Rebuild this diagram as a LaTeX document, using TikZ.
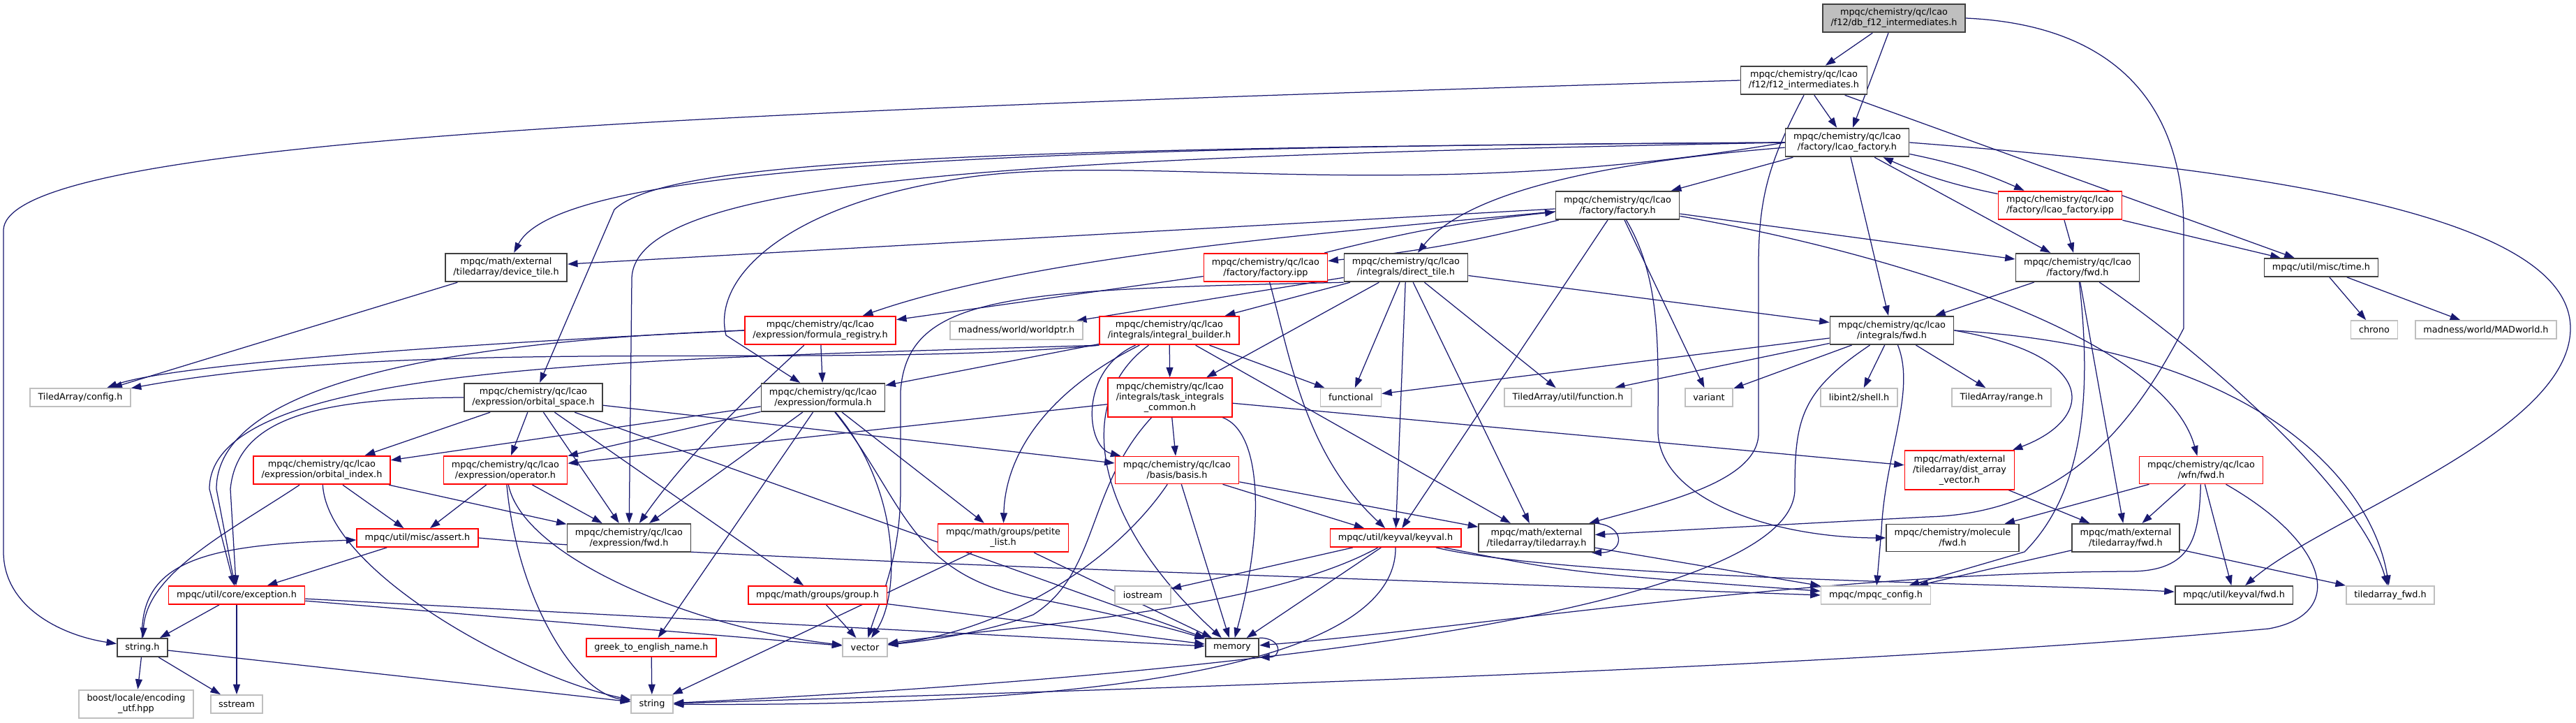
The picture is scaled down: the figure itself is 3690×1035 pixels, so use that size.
\documentclass[tikz,border=0pt]{standalone}
\usepackage{fontspec}
\setmainfont{DejaVu Sans}
\usetikzlibrary{arrows.meta,positioning}
\pgfdeclarelayer{edges}
\pgfsetlayers{edges,main}

\definecolor{edgeblue}{HTML}{191970}
\definecolor{boxred}{HTML}{FF0000}
\definecolor{boxgray}{HTML}{BFBFBF}
\definecolor{boxdark}{HTML}{404040}

\tikzset{
  filebox/.style={font=\fontsize{7.3}{8.5}\selectfont, align=center, inner xsep=2.3mm,
    inner ysep=1.3mm, minimum height=5.2mm, line width=0.35mm, fill=white},
  hdr/.style={filebox, draw=boxdark},
  hdrred/.style={filebox, draw=boxred},
  sysinc/.style={filebox, draw=boxgray},
  thisfile/.style={filebox, draw=boxdark, fill=boxgray},
  edge/.style={draw=edgeblue, line width=0.25mm, -{Triangle[length=2.9mm,width=2mm]}}
}

\begin{document}
\begin{tikzpicture}[x=0.2mm,y=-0.2mm]
\useasboundingbox (0,0) rectangle (3690,1035);

% include files, one row per rank
\node[thisfile] (root) at (2713,26) {mpqc/chemistry/qc/lcao\\/f12/db\_f12\_intermediates.h};
\node[hdr] (f12) at (2584,115) {mpqc/chemistry/qc/lcao\\/f12/f12\_intermediates.h};
\node[hdr] (lcaofac) at (2646,204) {mpqc/chemistry/qc/lcao\\/factory/lcao\_factory.h};
\node[hdr] (factory) at (2317,294) {mpqc/chemistry/qc/lcao\\/factory/factory.h};
\node[hdrred] (lcaoipp) at (2951,294) {mpqc/chemistry/qc/lcao\\/factory/lcao\_factory.ipp};

\node[hdr] (devtile) at (725,383) {mpqc/math/external\\/tiledarray/device\_tile.h};
\node[hdrred] (factipp) at (1813,383) {mpqc/chemistry/qc/lcao\\/factory/factory.ipp};
\node[hdr] (directtile) at (2014,383) {mpqc/chemistry/qc/lcao\\/integrals/direct\_tile.h};
\node[hdr] (facfwd) at (2976,383) {mpqc/chemistry/qc/lcao\\/factory/fwd.h};
\node[hdr] (time) at (3325,383) {mpqc/util/misc/time.h};

\node[hdrred] (formreg) at (1175,473) {mpqc/chemistry/qc/lcao\\/expression/formula\_registry.h};
\node[sysinc] (worldptr) at (1456,473) {madness/world/worldptr.h};
\node[hdrred] (intbuilder) at (1675,473) {mpqc/chemistry/qc/lcao\\/integrals/integral\_builder.h};
\node[hdr] (intfwd) at (2710,473) {mpqc/chemistry/qc/lcao\\/integrals/fwd.h};
\node[sysinc] (chrono) at (3401,472) {chrono};
\node[sysinc] (madworld) at (3561,472) {madness/world/MADworld.h};

\node[sysinc] (taconfig) at (115,569) {TiledArray/config.h};
\node[hdr] (orbspace) at (764,569) {mpqc/chemistry/qc/lcao\\/expression/orbital\_space.h};
\node[hdr] (formula) at (1179,569) {mpqc/chemistry/qc/lcao\\/expression/formula.h};
\node[hdrred] (taskint) at (1676,569) {mpqc/chemistry/qc/lcao\\/integrals/task\_integrals\\\_common.h};
\node[sysinc] (functional) at (1935,569) {functional};
\node[sysinc] (tafunction) at (2246,569) {TiledArray/util/function.h};
\node[sysinc] (variant) at (2448,569) {variant};
\node[sysinc] (libint) at (2663,569) {libint2/shell.h};
\node[sysinc] (tarange) at (2867,569) {TiledArray/range.h};

\node[hdrred] (orbindex) at (461,673) {mpqc/chemistry/qc/lcao\\/expression/orbital\_index.h};
\node[hdrred] (operator) at (724,673) {mpqc/chemistry/qc/lcao\\/expression/operator.h};
\node[hdrred] (basis) at (1686,673) {mpqc/chemistry/qc/lcao\\/basis/basis.h};
\node[hdrred] (distvec) at (2807,673) {mpqc/math/external\\/tiledarray/dist\_array\\\_vector.h};
\node[hdrred] (wfnfwd) at (3153,673) {mpqc/chemistry/qc/lcao\\/wfn/fwd.h};

\node[hdrred] (assert) at (598,770) {mpqc/util/misc/assert.h};
\node[hdr] (exprfwd) at (901,770) {mpqc/chemistry/qc/lcao\\/expression/fwd.h};
\node[hdrred] (petite) at (1437,770) {mpqc/math/groups/petite\\\_list.h};
\node[hdrred] (keyval) at (1999,770) {mpqc/util/keyval/keyval.h};
\node[hdr] (tiledarray) at (2201,770) {mpqc/math/external\\/tiledarray/tiledarray.h};
\node[hdr] (molfwd) at (2797,770) {mpqc/chemistry/molecule\\/fwd.h};
\node[hdr] (tafwd) at (3045,770) {mpqc/math/external\\/tiledarray/fwd.h};

\node[hdrred] (exception) at (339,852) {mpqc/util/core/exception.h};
\node[hdrred] (group) at (1171,852) {mpqc/math/groups/group.h};
\node[sysinc] (iostream) at (1637,852) {iostream};
\node[sysinc] (config) at (2687,852) {mpqc/mpqc\_config.h};
\node[hdr] (keyvalfwd) at (3200,852) {mpqc/util/keyval/fwd.h};
\node[sysinc] (tafwdh) at (3424,852) {tiledarray\_fwd.h};

\node[hdr] (stringh) at (204,927) {string.h};
\node[hdrred] (greek) at (933,927) {greek\_to\_english\_name.h};
\node[sysinc] (vector) at (1239,927) {vector};
\node[hdr] (memory) at (1765,927) {memory};

\node[sysinc] (boost) at (195,1008) {boost/locale/encoding\\\_utf.hpp};
\node[sysinc] (sstream) at (339,1008) {sstream};
\node[sysinc] (string) at (934,1008) {string};

\begin{pgfonlayer}{edges}
% plain includes
\foreach \s/\t in {root/f12, root/lcaofac, f12/lcaofac, f12/time,
  lcaofac/factory, lcaofac/intfwd, lcaofac/facfwd, lcaoipp/facfwd, lcaoipp/time,
  factory/devtile, factory/facfwd, factory/keyval, factory/variant, factipp/formreg,
  directtile/worldptr, directtile/intbuilder, directtile/taskint, directtile/functional,
  directtile/tafunction, directtile/intfwd, directtile/tiledarray, directtile/keyval,
  intbuilder/formula, intbuilder/taskint, intbuilder/functional, intbuilder/tiledarray,
  formreg/formula, devtile/taconfig,
  intfwd/functional, intfwd/tafunction, intfwd/variant, intfwd/libint, intfwd/tarange,
  facfwd/intfwd, facfwd/tafwd, time/chrono, time/madworld,
  orbspace/orbindex, orbspace/operator, orbspace/exprfwd, orbspace/basis, orbspace/group, orbspace/memory,
  formula/orbindex, formula/operator, formula/exprfwd, formula/petite, formula/greek,
  taskint/basis, taskint/distvec, taskint/operator,
  orbindex/assert, orbindex/exprfwd, operator/assert, operator/exprfwd,
  basis/keyval, basis/tiledarray, basis/memory,
  distvec/tafwd, wfnfwd/molfwd, wfnfwd/tafwd, wfnfwd/keyvalfwd,
  tafwd/config, tafwd/tafwdh, assert/exception, petite/string, petite/memory,
  keyval/iostream, keyval/memory, tiledarray/config,
  exception/stringh, exception/sstream, exception/vector, exception/memory,
  group/vector, group/memory, stringh/boost, stringh/sstream, stringh/string, greek/string}
  \draw[edge] (\s) -- (\t);

% routed round the boxes
\draw[edge] (f12.west) .. controls (1000,160) and (5,200) .. (5,330) -- (5,790) .. controls (5,870) and (90,910) .. (stringh);
\draw[edge] (f12.south) .. controls (2535,230) and (2519,280) .. (2519,380) -- (2519,620) .. controls (2519,690) and (2380,720) .. (tiledarray);
\draw[edge] (root.east) .. controls (3020,35) and (3128,140) .. (3128,330) -- (3128,470) .. controls (3050,620) and (2950,735) .. (2760,740) -- (tiledarray);
\draw[edge] (lcaofac.east) .. controls (3200,240) and (3682,300) .. (3682,470) .. controls (3682,620) and (3330,740) .. (keyvalfwd);
\draw[edge] (lcaofac.west) .. controls (1400,210) and (800,240) .. (devtile);
\draw[edge] (lcaofac.west) .. controls (1300,212) and (950,235) .. (880,300) -- (orbspace);
\draw[edge] (lcaofac.west) .. controls (1500,225) and (905,250) .. (905,400) -- (exprfwd);
\draw[edge] (lcaofac.west) .. controls (2000,300) and (1600,210) .. (1350,260) .. controls (1120,300) and (1020,400) .. (1040,480) -- (formula);
\draw[edge] (lcaofac) .. controls (2200,240) and (2080,300) .. (directtile);
\draw[edge] (lcaoipp) to[bend left=6] (lcaofac);
\draw[edge] (lcaofac) to[bend left=6] (lcaoipp);
\draw[edge] (factory) to[bend left=4] (factipp);
\draw[edge] (factipp) to[bend left=4] (factory);
\draw[edge] (factory) .. controls (1950,330) and (1500,360) .. (formreg);
\draw[edge] (factory) .. controls (2380,400) and (2375,500) .. (2375,620) .. controls (2380,720) and (2550,770) .. (molfwd);
\draw[edge] (factory) .. controls (2700,360) and (3100,480) .. (wfnfwd);
\draw[edge] (factipp) .. controls (1850,520) and (1870,650) .. (keyval);
\draw[edge] (directtile.south west) .. controls (1450,415) and (1300,420) .. (1290,560) -- (1290,700) .. controls (1290,800) and (1260,860) .. (vector);
\draw[edge] (intbuilder) .. controls (1545,530) and (1555,640) .. (basis);
\draw[edge] (intbuilder) .. controls (1500,560) and (1440,650) .. (petite);
\draw[edge] (intbuilder) .. controls (1540,570) and (1560,740) .. (memory);
\draw[edge] (intbuilder.south west) .. controls (1200,530) and (600,480) .. (taconfig);
\draw[edge] (intbuilder.south west) .. controls (900,515) and (300,520) .. (300,700) -- (exception);
\draw[edge] (formreg.west) .. controls (700,490) and (250,520) .. (taconfig);
\draw[edge] (formreg.west) .. controls (600,490) and (310,560) .. (310,700) -- (exception);
\draw[edge] (formreg) .. controls (1080,560) and (985,650) .. (exprfwd);
\draw[edge] (orbspace.west) .. controls (450,570) and (340,600) .. (330,700) -- (exception);
\draw[edge] (intfwd) .. controls (2745,560) and (2700,650) .. (2695,760) -- (config);
\draw[edge] (intfwd.east) .. controls (3010,510) and (3000,600) .. (distvec);
\draw[edge] (intfwd.east) .. controls (3250,500) and (3400,700) .. (tafwdh);
\draw[edge] (intfwd) .. controls (2580,560) and (2571,600) .. (2571,700) .. controls (2571,860) and (1900,960) .. (string);
\draw[edge] (facfwd) .. controls (3150,500) and (3380,700) .. (tafwdh);
\draw[edge] (facfwd) .. controls (2995,550) and (2990,700) .. (2900,790) -- (config);
\draw[edge] (formula) .. controls (1290,700) and (1290,850) .. (vector);
\draw[edge] (formula) .. controls (1300,720) and (1300,830) .. (1500,860) .. controls (1600,880) and (1680,900) .. (memory);
\draw[edge] (taskint) .. controls (1810,620) and (1810,760) .. (memory);
\draw[edge] (taskint) .. controls (1555,700) and (1575,820) .. (1480,880) .. controls (1400,910) and (1300,920) .. (vector);
\draw[edge] (orbindex) .. controls (330,760) and (210,820) .. (stringh);
\draw[edge] (orbindex) .. controls (470,820) and (750,970) .. (string);
\draw[edge] (operator) .. controls (740,850) and (820,990) .. (string);
\draw[edge] (operator) .. controls (750,800) and (1000,900) .. (vector);
\draw[edge] (basis) .. controls (1600,800) and (1450,900) .. (vector);
\draw[edge] (keyval) .. controls (1800,880) and (1400,900) .. (vector);
\draw[edge] (keyval) .. controls (2000,1000) and (1300,1010) .. (string);
\draw[edge] (keyval) .. controls (2250,820) .. (config);
\draw[edge] (keyval) .. controls (2250,830) and (2900,835) .. (keyvalfwd);
\draw[edge] (assert.east) .. controls (1000,800) and (2000,830) .. (config.west);
\draw[edge] (wfnfwd) .. controls (3340,780) and (3360,880) .. (3250,900) .. controls (2600,960) and (1500,990) .. (string);
\draw[edge] (wfnfwd) .. controls (3150,770) and (3140,818) .. (3050,818) .. controls (2600,820) and (2100,900) .. (memory);
\draw[edge] (stringh) .. controls (200,800) and (300,780) .. (assert);
% self includes
\draw[edge] (memory.north east) to[out=0,in=0,looseness=3] (memory.south east);
\draw[edge] (tiledarray.15) to[out=0,in=0,looseness=3] (tiledarray.-15);
\end{pgfonlayer}
\end{tikzpicture}
\end{document}
